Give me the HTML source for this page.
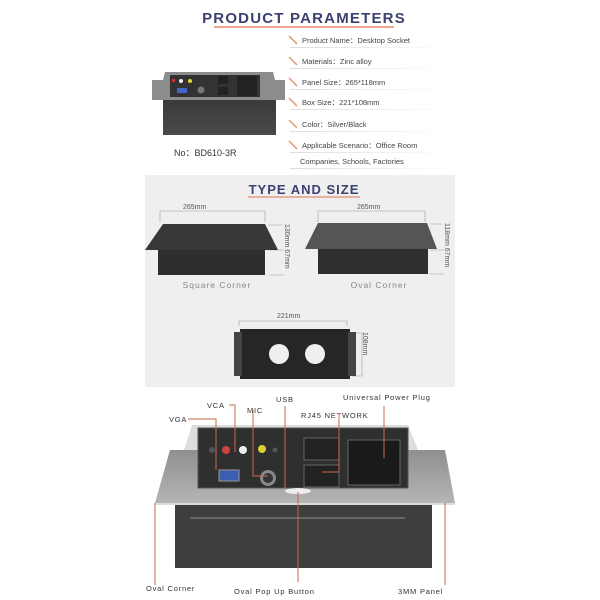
<!DOCTYPE html>
<html><head><meta charset="utf-8"><style>
body{margin:0;background:#fff;}
svg{display:block;font-family:"Liberation Sans",sans-serif;}
</style></head><body>
<svg width="600" height="600" viewBox="0 0 600 600" xmlns="http://www.w3.org/2000/svg">
<defs>
<linearGradient id="sep" x1="0" x2="1"><stop offset="0" stop-color="#ddd"/><stop offset="1" stop-color="#fff"/></linearGradient>
<linearGradient id="silver" x1="0" y1="0" x2="0" y2="1"><stop offset="0" stop-color="#8f8f8f"/><stop offset="1" stop-color="#b5b5b5"/></linearGradient>
<linearGradient id="boxg" x1="0" y1="0" x2="0" y2="1"><stop offset="0" stop-color="#3a3a3a"/><stop offset="1" stop-color="#4a4a4a"/></linearGradient>
</defs>
<text x="304" y="23" text-anchor="middle" font-size="15" font-weight="bold" fill="#3b4170" letter-spacing="1.2">PRODUCT PARAMETERS</text>
<line x1="214" y1="27" x2="394" y2="27" stroke="#e07050" stroke-width="1.2"/>
<polygon points="165,72 273,72 275,80 285,80 285,100 152,100 152,80 163,80" fill="#8c8c8c"/>
<rect x="170" y="75" width="90" height="22" fill="#333"/>
<rect x="172" y="79" width="3" height="3" fill="#c33"/><circle cx="181" cy="81" r="2" fill="#eee"/><circle cx="190" cy="81" r="2" fill="#dd3"/>
<rect x="177" y="88" width="10" height="5" fill="#46c"/><circle cx="201" cy="90" r="3.5" fill="#777"/>
<rect x="218" y="76" width="10" height="8" fill="#222"/><rect x="218" y="87" width="10" height="8" fill="#222"/>
<rect x="237" y="76" width="20" height="20" fill="#222"/>
<rect x="163" y="100" width="113" height="35" fill="url(#boxg)"/>
<text x="174" y="156" font-size="9" fill="#333">No：BD610-3R</text>
<g font-size="7.5" fill="#444" stroke="none">
<text x="302" y="43">Product Name：Desktop Socket</text>
<text x="302" y="64">Materials：Zinc alloy</text>
<text x="302" y="85">Panel Size：265*118mm</text>
<text x="302" y="105">Box Size：221*108mm</text>
<text x="302" y="127">Color：Silver/Black</text>
<text x="302" y="148">Applicable Scenario：Office Room</text>
<text x="300" y="164">Companies, Schools, Factories</text>
</g>
<g stroke="#e8a080" stroke-width="1.6">
<line x1="289" y1="36" x2="297" y2="44"/><line x1="289" y1="57" x2="297" y2="65"/><line x1="289" y1="78" x2="297" y2="86"/>
<line x1="289" y1="98" x2="297" y2="106"/><line x1="289" y1="120" x2="297" y2="128"/><line x1="289" y1="141" x2="297" y2="149"/>
</g>
<g fill="url(#sep)">
<rect x="290" y="47" width="165" height="1"/><rect x="290" y="68" width="165" height="1"/><rect x="290" y="89" width="165" height="1"/>
<rect x="290" y="109" width="165" height="1"/><rect x="290" y="131" width="165" height="1"/><rect x="290" y="152" width="165" height="1"/><rect x="290" y="168" width="165" height="1"/>
</g>
<rect x="145" y="175" width="310" height="212" fill="#efefef"/>
<text x="304" y="194" text-anchor="middle" font-size="13" font-weight="bold" fill="#3b4170" letter-spacing="1">TYPE AND SIZE</text>
<line x1="248" y1="197" x2="360" y2="197" stroke="#e07050" stroke-width="1"/>
<g font-size="7" fill="#555">
<text x="183" y="209">265mm</text><text x="357" y="209">265mm</text><text x="277" y="318">221mm</text></g>
<g stroke="#999" stroke-width="0.6" fill="none">
<path d="M160,222 V211 H265 V222"/><path d="M318,222 V211 H425 V222"/><path d="M239,326 V321 H347 V326"/>
<path d="M268,225 H282 M268,250 H284 M270,275 H284"/><path d="M430,224 H442 M430,250 H444 M430,274 H444"/>
<path d="M352,333 H362 V376 H352"/>
</g>
<polygon points="163,224 265,224 278,250 145,250" fill="#383838"/>
<rect x="158" y="250" width="107" height="25" fill="#2e2e2e"/>
<polygon points="318,223 427,223 437,249 305,249" fill="#555"/>
<rect x="318" y="249" width="110" height="25" fill="#2f2f2f"/>
<g font-size="7" fill="#555">
<text transform="translate(285,224) rotate(90)">130mm 67mm</text>
<text transform="translate(445,223) rotate(90)">118mm 67mm</text>
<text transform="translate(363,332) rotate(90)">108mm</text>
</g>
<text x="217" y="288" text-anchor="middle" font-size="8.5" fill="#888" letter-spacing="1">Square Corner</text>
<text x="379" y="288" text-anchor="middle" font-size="8.5" fill="#888" letter-spacing="1">Oval Corner</text>
<rect x="240" y="329" width="110" height="50" fill="#262626"/>
<rect x="234" y="332" width="8" height="44" fill="#444"/><rect x="348" y="332" width="8" height="44" fill="#444"/>
<circle cx="279" cy="354" r="10" fill="#efefef"/><circle cx="315" cy="354" r="10" fill="#efefef"/>
<g font-size="7.5" fill="#333" letter-spacing="0.8">
<text x="343" y="400">Universal Power Plug</text>
<text x="276" y="402">USB</text>
<text x="207" y="408">VCA</text>
<text x="247" y="413">MIC</text>
<text x="301" y="418">RJ45 NETWORK</text>
<text x="169" y="422">VGA</text>
<text x="146" y="591">Oval Corner</text>
<text x="234" y="594">Oval Pop Up Button</text>
<text x="398" y="594">3MM Panel</text>
</g>
<polygon points="192,425 408,425 418,450 184,450" fill="#ddd"/>
<polygon points="170,450 445,450 455,503 155,503" fill="url(#silver)"/>
<rect x="155" y="503" width="300" height="2" fill="#ddd"/>
<rect x="198" y="428" width="210" height="60" fill="#2f2f2f" stroke="#555"/>
<circle cx="212" cy="450" r="3" fill="#555"/><circle cx="226" cy="450" r="4" fill="#c44"/><circle cx="243" cy="450" r="4" fill="#eee"/>
<circle cx="262" cy="449" r="4" fill="#dc3"/><circle cx="275" cy="450" r="2.5" fill="#555"/>
<rect x="219" y="470" width="20" height="11" fill="#3a5fb0" stroke="#999"/>
<circle cx="268" cy="478" r="8" fill="#888"/><circle cx="268" cy="478" r="5" fill="#333"/>
<rect x="304" y="438" width="35" height="22" fill="#222" stroke="#666"/><rect x="304" y="465" width="35" height="22" fill="#222" stroke="#666"/>
<rect x="348" y="440" width="52" height="45" fill="#1a1a1a" stroke="#666"/>
<ellipse cx="298" cy="491" rx="13" ry="3" fill="#eee"/>
<rect x="175" y="505" width="257" height="63" fill="#3e3e3e"/>
<line x1="190" y1="518" x2="405" y2="518" stroke="#666" stroke-width="2"/>
<g stroke="#c96a4a" stroke-width="1" fill="none">
<path d="M188,419 H216 V470"/><path d="M229,405 H235 V452"/><path d="M253,410 V476 H268"/>
<path d="M285,406 V488"/><path d="M339,413 V472 H322"/><path d="M384,406 V458"/>
<path d="M298,492 V582"/><path d="M155,503 V585"/><path d="M445,503 V585"/>
</g>
</svg>
</body></html>
